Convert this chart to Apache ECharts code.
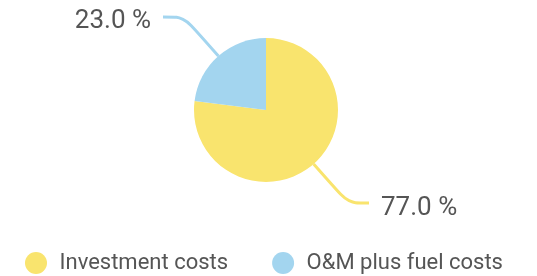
<!DOCTYPE html>
<html>
<head>
<meta charset="utf-8">
<script src="https://cdn.jsdelivr.net/npm/echarts@6/dist/echarts.min.js"></script>
<style>
  html, body { margin: 0; padding: 0; background: #fff; }
  #pieChart { width: 537px; height: 276px; }
</style>
</head>
<body>
<div id="pieChart"></div>
<script>
// data
var names = ['Investment costs', 'O&M plus fuel costs'];
var values = [77.0, 23.0];
var colors = ['#f9e46e', '#a3d5ef'];

var pieChart = echarts.init(document.getElementById('pieChart'));

var data = names.map(function (n, i) {
  return { name: n, value: values[i], itemStyle: { color: colors[i] } };
});

var option = {
  animation: false,
  textStyle: { fontFamily: 'Roboto, Arial, sans-serif' },
  legend: {
    bottom: 2,
    left: 25,
    padding: 0,
    icon: 'circle',
    itemWidth: 23,
    itemHeight: 22,
    itemGap: 44,
    textStyle: { fontSize: 22, color: '#555', padding: [0, 0, 0, 7] },
    data: names
  },
  series: [
    {
      type: 'pie',
      radius: 72,
      center: [266, 110],
      startAngle: 90,
      clockwise: true,
      label: {
        distanceToLabelLine: 12,
        // push the text a little below the line end
        formatter: function (p) {
          return '{v|' + p.percent.toFixed(1) + ' %}';
        },
        rich: {
          v: { fontSize: 26, color: '#555', padding: [10, 0, 0, 0] }
        }
      },
      labelLine: {
        length: 52,
        length2: 21,
        smooth: true,
        lineStyle: { width: 3 }
      },
      data: data
    }
  ]
};

pieChart.setOption(option);
</script>
</body>
</html>
